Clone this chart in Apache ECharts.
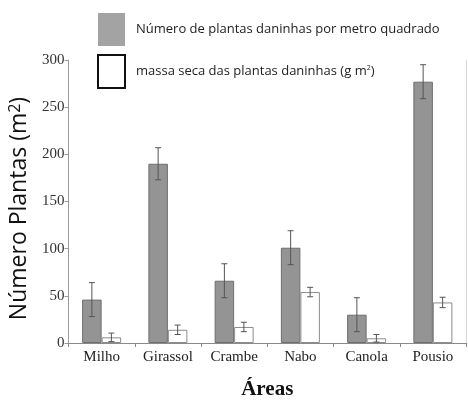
<!DOCTYPE html>
<html>
<head>
<meta charset="utf-8">
<script src="https://cdn.jsdelivr.net/npm/echarts@6/dist/echarts.min.js"></script>
<style>
  html, body { margin: 0; padding: 0; background: #fff; }
  #chart { width: 468px; height: 400px; }
</style>
</head>
<body>
<div id="chart"></div>
<script>
// Weed counts and dry mass by cropping area
const categories = ['Milho', 'Girassol', 'Crambe', 'Nabo', 'Canola', 'Pousio'];
const plantsPerM2 = [46, 190, 66, 101, 30, 277];
const plantsErr = [18, 17, 18, 18, 18, 18];
const dryMass = [6, 14, 17, 54, 5, 43];
const dryMassErr = [4.5, 5, 5, 5, 4, 5.5];
const yTicks = [0, 50, 100, 150, 200, 250, 300];

const NAME_PLANTS = 'Número de plantas daninhas por metro quadrado';
const NAME_MASS = 'massa seca das plantas daninhas (g m2)';
const BAR_W = 19.5;

const serif = '"Liberation Serif", "Times New Roman", serif';
const sans = '"Open Sans", "Noto Sans", sans-serif';

function errorSeries(values, errs, side, color) {
  return {
    type: 'custom',
    name: 'err' + side,
    z: 5,
    silent: true,
    data: values.map((v, i) => [i, v, errs[i]]),
    renderItem: function (params, api) {
      const i = api.value(0), v = api.value(1), e = api.value(2);
      const hi = api.coord([i, v + e]);
      const lo = api.coord([i, v - e]);
      const x = hi[0] + side * BAR_W / 2;
      const cap = 3;
      const style = { stroke: color, lineWidth: 1 };
      return {
        type: 'group',
        children: [
          { type: 'line', shape: { x1: x, y1: hi[1], x2: x, y2: lo[1] }, style },
          { type: 'line', shape: { x1: x - cap, y1: hi[1], x2: x + cap, y2: hi[1] }, style },
          { type: 'line', shape: { x1: x - cap, y1: lo[1], x2: x + cap, y2: lo[1] }, style }
        ]
      };
    }
  };
}

const chart = echarts.init(document.getElementById('chart'), null, { renderer: 'canvas' });
chart.setOption({
  animation: false,
  backgroundColor: '#fff',
  grid: { left: 68.5, right: 2, top: 60, bottom: 57, containLabel: false, outerBoundsMode: 'none' },
  legend: {
    orient: 'vertical',
    left: 97,
    top: 13,
    padding: 0,
    itemWidth: 27,
    itemHeight: 33,
    itemGap: 8,
    selectedMode: false,
    data: [
      { name: NAME_PLANTS, icon: 'rect', itemStyle: { color: '#a3a3a3', borderWidth: 0 } },
      { name: NAME_MASS, icon: 'rect', itemStyle: { color: '#fff', borderColor: '#111', borderWidth: 2 } }
    ],
    formatter: function (name) {
      return name === NAME_MASS ? 'massa seca das plantas daninhas (g m{sup|2})' : name;
    },
    textStyle: {
      fontFamily: sans,
      fontSize: 13,
      color: '#222',
      padding: [0, 0, 0, 6],
      rich: {
        sup: { fontFamily: sans, fontSize: 7, verticalAlign: 'top', padding: [0, 0, 8, 0], color: '#222' }
      }
    }
  },
  xAxis: {
    type: 'category',
    data: categories,
    name: 'Áreas',
    nameLocation: 'middle',
    nameGap: 36,
    nameTextStyle: { fontFamily: serif, fontSize: 21, fontWeight: 'bold', color: '#111' },
    axisLine: { lineStyle: { color: '#8a8a8a', width: 1 } },
    axisTick: { show: true, length: 4, lineStyle: { color: '#8a8a8a' } },
    axisLabel: { fontFamily: serif, fontSize: 15, color: '#222', margin: 7 }
  },
  yAxis: [
    {
      type: 'value',
      min: yTicks[0],
      max: yTicks[yTicks.length - 1],
      interval: 50,
      name: 'Número Plantas (m{sup|2})',
      nameLocation: 'middle',
      nameGap: 33,
      nameTextStyle: {
        fontFamily: sans,
        fontSize: 23,
        color: '#111',
        padding: [0, 14, 0, 0],
        rich: {
          sup: { fontFamily: sans, fontSize: 16, color: '#111', padding: [0, 0, 9, 0] }
        }
      },
      axisLine: { show: true, lineStyle: { color: '#9a9a9a', width: 1 } },
      axisTick: { show: true, length: 4, lineStyle: { color: '#9a9a9a' } },
      axisLabel: { fontFamily: serif, fontSize: 15, color: '#333', margin: 4 },
      splitLine: { show: false }
    },
    {
      type: 'value',
      position: 'right',
      min: yTicks[0],
      max: yTicks[yTicks.length - 1],
      interval: 50,
      axisLine: { show: true, lineStyle: { color: '#d8d8d8', width: 1 } },
      axisTick: { show: false },
      axisLabel: { show: false },
      splitLine: { show: false }
    }
  ],
  series: [
    {
      name: NAME_PLANTS,
      type: 'bar',
      data: plantsPerM2,
      barWidth: BAR_W,
      barGap: '0%',
      itemStyle: { color: '#949494', borderColor: '#6e6e6e', borderWidth: 1 }
    },
    {
      name: NAME_MASS,
      type: 'bar',
      data: dryMass,
      barWidth: BAR_W,
      barGap: '0%',
      itemStyle: { color: '#ffffff', borderColor: '#8c8c8c', borderWidth: 1 }
    },
    errorSeries(plantsPerM2, plantsErr, -1, '#555'),
    errorSeries(dryMass, dryMassErr, 1, '#555')
  ]
});
</script>
</body>
</html>
